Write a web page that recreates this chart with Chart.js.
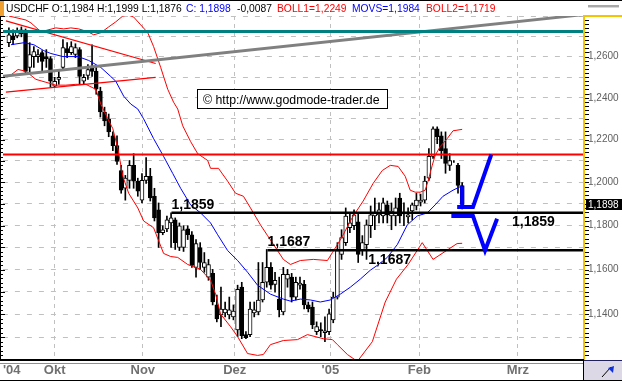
<!DOCTYPE html>
<html>
<head>
<meta charset="utf-8">
<script src="https://cdn.jsdelivr.net/npm/chart.js@4.4.1/dist/chart.umd.min.js"></script>
<style>
  html, body { margin: 0; padding: 0; background: #fff; }
  #wrap { width: 622px; height: 381px; }
</style>
</head>
<body>
<div id="wrap"><canvas id="fx" width="622" height="381"></canvas></div>
<script>
// USD/CHF daily candles, mid Sep 2004 - mid Feb 2005 (x = trading day index)
const opens = [1.2668,1.2702,1.2702,1.2712,1.2722,1.2547,1.2600,1.2600,1.2619,1.2600,
  1.2590,1.2456,1.2489,1.2547,1.2639,1.2619,1.2610,1.2634,1.2480,1.2508,
  1.2547,1.2528,1.2432,1.2332,1.2299,1.2218,1.2172,1.2055,1.1972,1.2009,
  1.2079,1.2005,1.1917,1.2009,1.2028,1.1935,1.1872,1.1767,1.1785,1.1812,
  1.1826,1.1700,1.1700,1.1785,1.1758,1.1610,1.1700,1.1610,1.1566,1.1583,
  1.1442,1.1398,1.1407,1.1398,1.1389,1.1332,1.1521,1.1311,1.1311,1.1407,
  1.1411,1.1464,1.1543,1.1610,1.1534,1.1468,1.1411,1.1557,1.1566,1.1477,
  1.1530,1.1534,1.1442,1.1433,1.1324,1.1333,1.1319,1.1324,1.1376,1.1477,
  1.1668,1.1722,1.1790,1.1799,1.1817,1.1686,1.1713,1.1799,1.1844,1.1849,
  1.1844,1.1895,1.1844,1.1844,1.1927,1.1858,1.1840,1.1867,1.1890,1.1908,
  1.1917,1.2019,1.2121,1.2252,1.2218,1.2158,1.2079,1.2097,1.2079,1.1984];
const highs = [1.2741,1.2731,1.2741,1.2746,1.2736,1.2668,1.2649,1.2634,1.2629,1.2634,
  1.2600,1.2499,1.2537,1.2683,1.2668,1.2673,1.2663,1.2644,1.2513,1.2561,
  1.2658,1.2552,1.2451,1.2355,1.2322,1.2237,1.2218,1.2079,1.2032,1.2102,
  1.2134,1.2019,1.2041,1.2116,1.2065,1.1972,1.1904,1.1799,1.1844,1.1859,
  1.1835,1.1812,1.1799,1.1799,1.1772,1.1736,1.1722,1.1677,1.1646,1.1601,
  1.1486,1.1521,1.1455,1.1477,1.1442,1.1530,1.1543,1.1324,1.1455,1.1455,
  1.1632,1.1632,1.1691,1.1632,1.1588,1.1566,1.1610,1.1601,1.1583,1.1566,
  1.1566,1.1552,1.1455,1.1455,1.1367,1.1363,1.1389,1.1424,1.1499,1.1722,
  1.1781,1.1881,1.1858,1.1872,1.1858,1.1754,1.1826,1.1890,1.1927,1.1904,
  1.1927,1.1913,1.1904,1.1927,1.1949,1.1904,1.1881,1.1904,1.1949,1.1945,
  1.2028,1.2158,1.2261,1.2261,1.2237,1.2237,1.2134,1.2102,1.2088,1.1999];
const lows = [1.2649,1.2658,1.2692,1.2697,1.2518,1.2513,1.2547,1.2571,1.2528,1.2547,
  1.2451,1.2451,1.2465,1.2537,1.2595,1.2610,1.2595,1.2465,1.2465,1.2489,
  1.2503,1.2417,1.2308,1.2266,1.2214,1.2148,1.2083,1.1949,1.1917,1.1972,
  1.1972,1.1935,1.1904,1.1995,1.1913,1.1821,1.1700,1.1758,1.1772,1.1700,
  1.1691,1.1686,1.1682,1.1736,1.1610,1.1566,1.1601,1.1588,1.1552,1.1442,
  1.1367,1.1346,1.1389,1.1380,1.1376,1.1302,1.1293,1.1293,1.1302,1.1389,
  1.1398,1.1455,1.1521,1.1512,1.1499,1.1389,1.1398,1.1521,1.1455,1.1464,
  1.1512,1.1424,1.1411,1.1337,1.1311,1.1302,1.1280,1.1311,1.1363,1.1468,
  1.1646,1.1709,1.1767,1.1781,1.1632,1.1664,1.1646,1.1745,1.1781,1.1812,
  1.1812,1.1812,1.1781,1.1799,1.1812,1.1799,1.1812,1.1826,1.1872,1.1890,
  1.1904,1.2009,1.2111,1.2181,1.2111,1.2042,1.2055,1.2093,1.1949,1.1876];
const closes = [1.2707,1.2683,1.2722,1.2731,1.2528,1.2610,1.2624,1.2610,1.2576,1.2590,
  1.2480,1.2480,1.2499,1.2644,1.2619,1.2649,1.2644,1.2503,1.2499,1.2537,
  1.2528,1.2441,1.2332,1.2289,1.2237,1.2172,1.2097,1.1963,1.2019,1.2079,
  1.2005,1.1959,1.2009,1.2028,1.1927,1.1835,1.1767,1.1781,1.1826,1.1835,
  1.1722,1.1799,1.1781,1.1758,1.1619,1.1718,1.1632,1.1632,1.1623,1.1455,
  1.1380,1.1424,1.1424,1.1420,1.1415,1.1512,1.1306,1.1298,1.1424,1.1420,
  1.1464,1.1543,1.1610,1.1530,1.1552,1.1420,1.1579,1.1579,1.1477,1.1543,
  1.1539,1.1442,1.1424,1.1354,1.1346,1.1328,1.1328,1.1402,1.1477,1.1686,
  1.1745,1.1844,1.1812,1.1849,1.1668,1.1722,1.1803,1.1849,1.1858,1.1872,
  1.1904,1.1849,1.1867,1.1881,1.1844,1.1853,1.1849,1.1895,1.1917,1.1917,
  1.2005,1.2121,1.2252,1.2214,1.2148,1.2088,1.2102,1.2097,1.1985,1.1898];

// Bollinger bands and moving average, read at these day positions
const upperK = [0,4.1,5.3,7.7,11.3,13.2,14.9,16.8,19.0,20.4,22.1,24.0,25.7,27.4,28.6,30.0,31.7,33.4,34.8,36.5,
  38.2,39.6,40.6,41.8,43.7,45.4,47.8,48.5,50.4,52.6,54.5,56.4,58.1,58.8,60.5,62.2,64.6,66.0,67.7,70.1,
  73.2,76.6,77.8,79.0,80.4,82.1,83.3,85.2,87.6,89.8,91.7,93.6,95.3,96.5,97.7,98.9,100.1,100.8,101.8,102.5,
  103.7,105.4,106.8,109.0];
const upperBand = [1.2800,1.2780,1.2766,1.2722,1.2741,1.2736,1.2741,1.2736,1.2722,1.2707,1.2717,1.2746,1.2771,1.2800,1.2805,1.2795,1.2756,1.2717,1.2649,1.2547,
  1.2441,1.2379,1.2346,1.2266,1.2191,1.2134,1.2102,1.2065,1.2065,1.2005,1.1949,1.1935,1.1881,1.1858,1.1803,1.1754,1.1686,1.1646,1.1623,1.1641,
  1.1646,1.1641,1.1677,1.1713,1.1758,1.1821,1.1858,1.1913,1.1995,1.2055,1.2079,1.2074,1.2028,1.1963,1.1954,1.1954,1.1963,1.2005,1.2079,1.2125,
  1.2167,1.2205,1.2242,1.2249];
const lowerK = [0,2.2,4.1,6.5,8.9,11.3,13.7,16.1,18.5,20.9,22.1,23.8,25.0,26.2,27.4,28.8,31.0,32.4,34.8,36.0,
  37.2,38.9,40.6,43.0,46.1,48.5,49.7,50.9,53.3,55.0,57.4,59.8,61.2,62.9,66.0,69.4,71.8,75.6,77.8,79.0,
  81.4,83.8,87.4,90.5,93.2,96.0,99.4,102.0,107.8,109.0];
const lowerBand = [1.2503,1.2537,1.2528,1.2489,1.2475,1.2461,1.2461,1.2465,1.2465,1.2441,1.2370,1.2299,1.2252,1.2158,1.2028,1.1949,1.1881,1.1821,1.1790,1.1731,
  1.1673,1.1659,1.1655,1.1623,1.1601,1.1552,1.1490,1.1402,1.1346,1.1302,1.1228,1.1220,1.1224,1.1267,1.1285,1.1289,1.1311,1.1293,1.1289,1.1267,
  1.1224,1.1194,1.1280,1.1455,1.1557,1.1623,1.1722,1.1646,1.1718,1.1719];
const maK = [0.5,3.6,6.0,8.4,10.1,13.0,16.6,19.2,22.1,24.5,25.7,27.6,29.3,31.0,32.4,34.8,37.2,39.4,41.3,43.7,
  46.1,48.5,50.2,52.6,55.0,57.4,59.8,62.9,66.0,67.7,70.1,72.5,74.9,77.3,79.7,82.1,84.5,86.9,88.6,91.0,
  93.4,95.8,98.2,100.6,102.5,104.4,106.8,109.0];
const movAvg = [1.2658,1.2668,1.2658,1.2629,1.2615,1.2600,1.2600,1.2581,1.2547,1.2503,1.2480,1.2408,1.2370,1.2346,1.2299,1.2205,1.2121,1.2041,1.1972,1.1895,
  1.1858,1.1812,1.1758,1.1686,1.1641,1.1588,1.1530,1.1490,1.1468,1.1459,1.1468,1.1464,1.1455,1.1464,1.1490,1.1521,1.1557,1.1597,1.1619,1.1655,
  1.1713,1.1803,1.1844,1.1858,1.1895,1.1935,1.1963,1.1984];

// drawn levels / trend lines
const X_MIN = -1.44, X_MAX = 138.3;
const Y_MIN = 1.12155, Y_MAX = 1.2800;
const tealLevel = 1.2723;
const redLevel = 1.2130;
const support1 = { from: 39.1, price: 1.1859 };
const support2 = { from: 62.2, price: 1.1687 };
const trendK = [X_MIN, X_MAX], trendP = [1.2504, 1.2807];
const wedgeK = [-0.72, 35.3], wedgeTopP = [1.2776, 1.2566], wedgeLowP = [1.2427, 1.2499];
const upArrowK = [109.0, 109.0, 108.0, 107.8, 111.6, 116.0];
const upArrowP = [1.1982, 1.1885, null, 1.1885, 1.1885, 1.2130];
const downArrowK = [106.4, 111.6, 114.5, 117.4];
const downArrowP = [1.1844, 1.1844, 1.1687, 1.1831];

// axis ticks
const monthLabels = ["'04", 'Okt', 'Nov', 'Dez', "'05", 'Feb', 'Mrz'];
const monthPos = [0.7, 11.0, 32.2, 54.3, 77.3, 98.7, 122.4];
const gridPrices = [1.13,1.14,1.15,1.16,1.17,1.18,1.19,1.20,1.21,1.22,1.23,1.24,1.25,1.26,1.27,1.28];
const labelPrices = [1.14, 1.16, 1.18, 1.20, 1.22, 1.24, 1.26];
const priceLabels = ['1,1400', '1,1600', '1,1800', '1,2000', '1,2200', '1,2400', '1,2600'];

const FONT = 'Liberation Sans';
const pts = (ks, ps) => ks.map((k, i) => ({ x: k, y: ps[i] }));
const line = (data, color, width, order) => ({
  type: 'line', data, borderColor: color, borderWidth: width, pointRadius: 0,
  tension: 0, spanGaps: false, clip: 0, order
});

const decor = {
  id: 'decor',
  beforeDraw(chart) {
    const { ctx } = chart;
    ctx.save();
    ctx.fillStyle = '#fff';
    ctx.fillRect(0, 0, chart.width, chart.height);
    ctx.restore();
  },
  afterDatasetsDraw(chart) {
    const { ctx, scales: { x, y } } = chart;
    ctx.save();
    ctx.font = 'bold 14px ' + FONT;
    ctx.fillStyle = '#000';
    ctx.textBaseline = 'alphabetic';
    const lbl = (txt, k, price, dy) => ctx.fillText(txt, x.getPixelForValue(k), y.getPixelForValue(price) + dy);
    lbl('1,1859', support1.from, support1.price, -4);
    lbl('1,1687', support2.from, support2.price, -4);
    lbl('1,1687', 86.4, support2.price, 14);
    lbl('1,1859', 121.0, support1.price, 13);

    // copyright box
    ctx.fillStyle = '#fff';
    ctx.fillRect(197, 89, 191, 20);
    ctx.strokeStyle = '#000';
    ctx.lineWidth = 1;
    ctx.strokeRect(197.5, 89.5, 190, 19);
    ctx.fillStyle = '#000';
    ctx.font = '12.3px ' + FONT;
    ctx.fillText('\u00a9 http://www.godmode-trader.de', 203, 104);
    ctx.restore();
  },
  afterDraw(chart) {
    const { ctx, chartArea: a, scales: { y } } = chart;
    ctx.save();
    // header
    ctx.fillStyle = '#f0a030';
    ctx.fillRect(0, 0, 4, 16);
    ctx.fillStyle = '#000';
    ctx.fillRect(0, 0, chart.width, 1);
    ctx.font = '10.3px ' + FONT;
    ctx.textBaseline = 'alphabetic';
    [['USDCHF O:1,1984 H:1,1999 L:1,1876', '#000', 6],
     ['C: 1,1898', '#0000ff', 186],
     ['-0,0087', '#000', 237],
     ['BOLL1=1,2249', '#ff0000', 277],
     ['MOVS=1,1984', '#0000ff', 352],
     ['BOLL2=1,1719', '#ff0000', 426]].forEach(([t, c, px]) => {
      ctx.fillStyle = c; ctx.fillText(t, px, 12);
    });
    ctx.fillStyle = '#a8a8a8';
    ctx.fillRect(588, 5, 31, 2);
    ctx.fillStyle = '#d8d8d8';
    ctx.fillRect(588, 7, 31, 1);

    // left axis + ticks
    ctx.fillStyle = '#000';
    ctx.fillRect(0, a.top, 1, a.bottom - a.top);
    for (let m = 561; m <= 640; m++) {
      const py = Math.round(y.getPixelForValue(m * 0.002));
      if (py < a.top || py > a.bottom) continue;
      ctx.fillRect(0, py, m % 5 === 0 ? 5 : 3, 1);
      ctx.fillRect(585, py, 4, 1);
    }
    // right axis (yellow)
    ctx.fillStyle = '#f5c400';
    ctx.fillRect(583, a.top - 1, 2, a.bottom - a.top + 1);
    ctx.fillRect(583, a.top - 1, chart.width - 583, 2);

    // last price tag
    const py = Math.round(y.getPixelForValue(closes[closes.length - 1]));
    ctx.fillStyle = '#000';
    ctx.fillRect(586, py - 5, 36, 11);
    ctx.fillStyle = '#fff';
    ctx.font = '10px ' + FONT;
    ctx.textBaseline = 'middle';
    ctx.fillText('1,1898', 588, py + 1);

    // x axis box
    ctx.fillStyle = '#000';
    ctx.fillRect(0, a.bottom - 1, 584, 2);
    ctx.fillStyle = '#909090';
    ctx.fillRect(0, a.bottom + 3, 584, 1);
    ctx.fillStyle = '#000';
    ctx.fillRect(0, chart.height - 1, chart.width, 1);
    ctx.fillRect(583, a.bottom, 1, chart.height - a.bottom);
    // corner box with flag
    ctx.fillStyle = '#dcd8e6';
    ctx.fillRect(584, a.bottom + 1, chart.width - 584, chart.height - a.bottom - 2);
    ctx.fillStyle = '#202060';
    ctx.fillRect(584, a.bottom, chart.width - 584, 1);
    ctx.strokeStyle = '#000';
    ctx.lineWidth = 1;
    ctx.beginPath(); ctx.moveTo(602, 377); ctx.lineTo(611, 367); ctx.stroke();
    ctx.fillStyle = '#1030e0';
    ctx.beginPath(); ctx.moveTo(608, 368); ctx.lineTo(614, 366); ctx.lineTo(613, 373); ctx.closePath(); ctx.fill();
    ctx.restore();
  }
};

const days = closes.map((_, i) => i);

new Chart(document.getElementById('fx'), {
  type: 'bar',
  data: {
    datasets: [
      { type: 'bar', data: days.map(i => ({ x: i, y: [lows[i], highs[i]] })),
        backgroundColor: '#000', barThickness: 1, grouped: false, borderWidth: 0, order: 30 },
      { type: 'bar', data: days.map(i => ({ x: i, y: [opens[i], closes[i]] })),
        backgroundColor: days.map(i => closes[i] >= opens[i] ? '#fff' : '#000'),
        borderColor: '#000', borderWidth: 1, borderSkipped: false, barThickness: 4, grouped: false, order: 29 },
      line(pts(upperK, upperBand), '#ff0000', 1, 20),
      line(pts(lowerK, lowerBand), '#ff0000', 1, 20),
      line(pts(maK, movAvg), '#0000ff', 1, 19),
      line(pts([X_MIN, X_MAX], [tealLevel, tealLevel]), '#008080', 3, 10),
      line(pts([X_MIN, X_MAX], [redLevel, redLevel]), '#ff0000', 2, 10),
      line(pts(trendK, trendP), '#808080', 3, 10),
      line(pts(wedgeK, wedgeTopP), '#ff0000', 1.2, 10),
      line(pts(wedgeK, wedgeLowP), '#ff0000', 1.2, 10),
      line(pts([support1.from, X_MAX], [support1.price, support1.price]), '#000', 2.5, 8),
      line(pts([support2.from, X_MAX], [support2.price, support2.price]), '#000', 2.5, 8),
      line(pts(upArrowK, upArrowP), '#0000ff', 4, 1),
      line(pts(downArrowK, downArrowP), '#0000ff', 4, 1)
    ]
  },
  options: {
    responsive: false,
    devicePixelRatio: 1,
    animation: false,
    events: [],
    layout: { padding: { top: 16, left: 2, right: 0, bottom: 0 } },
    plugins: { legend: { display: false }, tooltip: { enabled: false } },
    scales: {
      x: {
        type: 'linear', min: X_MIN, max: X_MAX, offset: false,
        afterBuildTicks: s => { s.ticks = monthPos.map(v => ({ value: v })); },
        afterFit: s => { s.height = 21; },
        grid: { offset: false, drawTicks: false, color: c => c.index === 0 ? 'rgba(0,0,0,0)' : '#c0c0c0' },
        border: { display: false, dash: [4, 4] },
        ticks: { autoSkip: false, maxRotation: 0, padding: 3, color: '#707070',
          font: { family: FONT, size: 13, weight: 'bold' }, callback: (v, i) => monthLabels[i] }
      },
      y: {
        type: 'logarithmic', position: 'right', min: Y_MIN, max: Y_MAX,
        afterBuildTicks: s => { s.ticks = gridPrices.map(v => ({ value: v })); },
        afterFit: s => { s.width = 38; },
        grid: { color: '#c0c0c0', drawTicks: false },
        border: { display: false, dash: [5, 7] },
        ticks: { autoSkip: false, padding: 4, color: '#606060', font: { family: FONT, size: 10 },
          callback: v => { const i = labelPrices.indexOf(+Number(v).toFixed(2)); return i >= 0 ? priceLabels[i] : ''; } }
      }
    }
  },
  plugins: [decor]
});
</script>
</body>
</html>
